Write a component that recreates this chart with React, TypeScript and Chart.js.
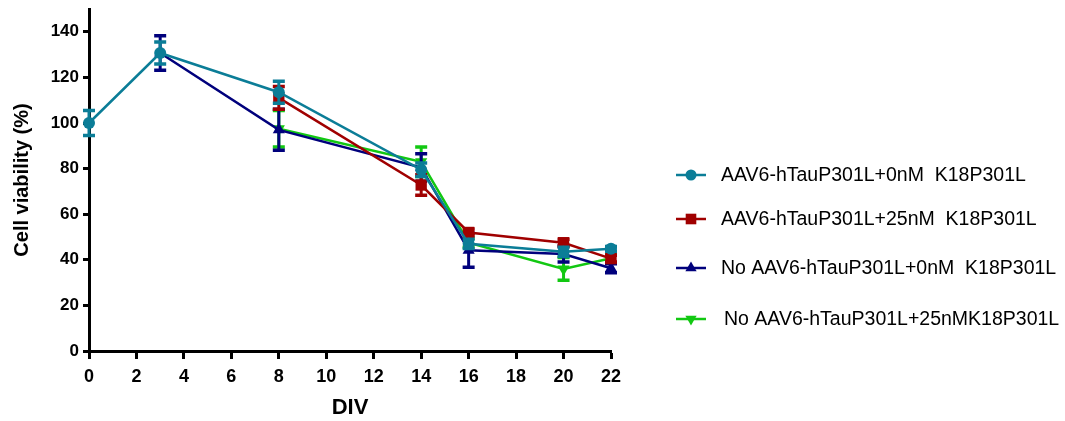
import React, { useEffect, useRef } from "react";
import { Chart, registerables } from "chart.js";
import { drawPoint } from "chart.js/helpers";

Chart.register(...registerables);

// ---- data ----
const seriesLabels = [
  "AAV6-hTauP301L+0nM  K18P301L",
  "AAV6-hTauP301L+25nM  K18P301L",
  "No AAV6-hTauP301L+0nM  K18P301L",
  "No AAV6-hTauP301L+25nMK18P301L",
];

const tealX = [0, 3, 8, 14, 16, 20, 22];
const tealY = [100, 130.7, 113.5, 79.5, 47, 43.5, 44.8];
const tealErr = [5.5, 4.8, 4.8, 3, 2, 2, 1];

const redX = [8, 14, 16, 20, 22];
const redY = [111, 72.8, 52, 47.5, 40.5];
const redErr = [5, 4.5, 1.5, 1.5, 1.5];

const navyX = [3, 8, 14, 16, 20, 22];
const navyY = [130.7, 97, 80.5, 44.2, 42.5, 36.3];
const navyErr = [7.6, 9, 6, 7.5, 3.5, 2];

const greenX = [8, 14, 16, 20, 22];
const greenY = [97.5, 83, 47.5, 36, 40.7];
const greenErr = [8, 6.5, 2, 5, 2];

const xTickStep = 2;
const yTickStep = 20;
const yTickMaxLabel = 140;

// ---- styles ----
const colors = ["#0B7D97", "#A00000", "#00007C", "#12C812"];
const pointStyles = ["circle", "rect", "triangle", "triangle"];
const pointRotations = [0, 0, 0, 180];
const pointRadii = [6, 8, 7, 7];

const toPoints = (xs: number[], ys: number[]) => xs.map((x, i) => ({ x, y: ys[i] }));

const errorBarPlugin = {
  id: "errorBars",
  beforeDatasetDraw(chart: any, args: any) {
    const ds = chart.data.datasets[args.index];
    const errs: number[] = ds.errors;
    if (!errs) return;
    const meta = args.meta;
    const yScale = chart.scales.y;
    const ctx = chart.ctx;
    ctx.save();
    ctx.strokeStyle = ds.borderColor;
    meta.data.forEach((el: any, i: number) => {
      const v = ds.data[i].y;
      const e = errs[i];
      const x = el.x;
      const yt = yScale.getPixelForValue(v + e);
      const yb = yScale.getPixelForValue(v - e);
      ctx.lineWidth = 3;
      ctx.beginPath();
      ctx.moveTo(x, yt);
      ctx.lineTo(x, yb);
      ctx.stroke();
      ctx.lineWidth = 3.5;
      ctx.beginPath();
      ctx.moveTo(x - 6, yt);
      ctx.lineTo(x + 6, yt);
      ctx.moveTo(x - 6, yb);
      ctx.lineTo(x + 6, yb);
      ctx.stroke();
    });
    ctx.restore();
  },
};

const legendPlugin = {
  id: "sideLegend",
  afterDraw(chart: any) {
    const ctx = chart.ctx;
    const ys = [175, 219, 268, 319];
    const x0 = 676;
    ctx.save();
    chart.data.datasets.forEach((ds: any, i: number) => {
      const y = ys[i];
      ctx.strokeStyle = ds.borderColor;
      ctx.lineWidth = 2.5;
      ctx.beginPath();
      ctx.moveTo(x0, y);
      ctx.lineTo(x0 + 30, y);
      ctx.stroke();
      ctx.fillStyle = ds.borderColor;
      drawPoint(ctx, {
        pointStyle: ds.pointStyle,
        rotation: ds.pointRotation,
        radius: ds.pointRadius - 0.5,
        borderWidth: 0,
      }, x0 + 15, y);
      ctx.fillStyle = "#000";
      ctx.font = "19.5px 'Liberation Sans', Arial, sans-serif";
      ctx.textBaseline = "middle";
      ctx.textAlign = "left";
      ctx.fillText(ds.label, 721 + (i === 3 ? 3 : 0), y + 1);
    });
    ctx.restore();
  },
};

export default function App() {
  const ref = useRef<HTMLCanvasElement>(null);

  useEffect(() => {
    if (!ref.current) return;
    Chart.defaults.font.family = "'Liberation Sans', Arial, sans-serif";
    const xs = [tealX, redX, navyX, greenX];
    const ys = [tealY, redY, navyY, greenY];
    const es = [tealErr, redErr, navyErr, greenErr];
    const datasets: any[] = seriesLabels.map((label, i) => ({
      label,
      data: toPoints(xs[i], ys[i]),
      errors: es[i],
      borderColor: colors[i],
      backgroundColor: colors[i],
      borderWidth: 2.5,
      pointStyle: pointStyles[i],
      pointRotation: pointRotations[i],
      pointRadius: pointRadii[i],
      pointBorderWidth: 0,
      pointBackgroundColor: colors[i],
      tension: 0,
      clip: false,
    }));
    const chart = new Chart(ref.current, {
      type: "line",
      data: { datasets },
      plugins: [errorBarPlugin, legendPlugin],
      options: {
        animation: false,
        responsive: false,
        layout: { padding: { top: 9, right: 454, left: 0, bottom: 0 } },
        plugins: { legend: { display: false }, tooltip: { enabled: false } },
        scales: {
          x: {
            type: "linear",
            min: 0,
            max: 22,
            ticks: {
              stepSize: xTickStep,
              color: "#000",
              font: { size: 18, weight: "bold" },
              padding: 7,
            },
            grid: {
              drawOnChartArea: false,
              drawTicks: true,
              tickLength: 8,
              tickWidth: 3,
              color: "#000",
            },
            border: { width: 3, color: "#000" },
            title: {
              display: true,
              text: "DIV",
              color: "#000",
              font: { size: 22, weight: "bold" },
              padding: { top: 0, bottom: 0 },
            },
            afterFit: (s: any) => {
              s.height = 70;
            },
          },
          y: {
            min: 0,
            max: 150,
            ticks: {
              stepSize: yTickStep,
              color: "#000",
              font: { size: 17, weight: "bold" },
              padding: 4,
            },
            afterBuildTicks: (s: any) => {
              s.ticks = s.ticks.filter((t: any) => t.value <= yTickMaxLabel);
            },
            grid: {
              drawOnChartArea: false,
              drawTicks: true,
              tickLength: 6,
              tickWidth: 3,
              color: "#000",
            },
            border: { width: 3, color: "#000" },
            title: {
              display: true,
              text: "Cell viability (%)",
              color: "#000",
              font: { size: 20, weight: "bold" },
              padding: { top: 10, bottom: 0 },
            },
            afterFit: (s: any) => {
              s.width = 89;
              s.paddingTop = 0;
              s.paddingBottom = 0;
            },
          },
        },
      } as any,
    });
    return () => chart.destroy();
  }, []);

  return (
    <div style={{ position: "fixed", left: 0, top: 0, width: 1065, height: 421, background: "#fff" }}>
      <canvas ref={ref} width={1065} height={421} style={{ display: "block" }} />
    </div>
  );
}
